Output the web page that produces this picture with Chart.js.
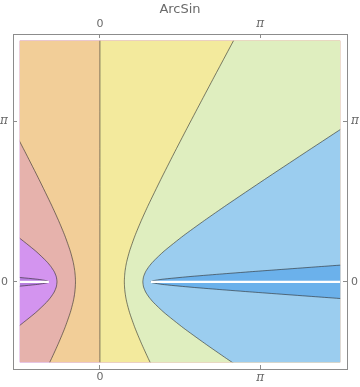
<!DOCTYPE html>
<html>
<head>
<meta charset="utf-8">
<script src="https://cdn.jsdelivr.net/npm/chart.js@4.4.1/dist/chart.umd.min.js"></script>
<style>
  html, body { margin: 0; padding: 0; background: #ffffff; }
  #c { display: block; }
</style>
</head>
<body>
<canvas id="c" width="360" height="387"></canvas>
<script>
// ---------------- data ----------------
const TITLE = 'ArcSin';
// plotted square (both axes): -π/2 .. 3π/2
const PLOT_RANGE = [-Math.PI / 2, 3 * Math.PI / 2];
const AXIS_PAD = 0.134;
// tick positions and labels (same on all four sides)
const TICK_VALUES = [0, Math.PI];
const TICK_LABELS = ['0', 'π'];

// contour levels of Re(ArcSin z), with their curves (x at given y)
const LEVELS = [-1.5, -1, -0.5, 0, 0.5, 1, 1.5];

// y samples for the |level| = 0.5 and 1 curves
const Y_MAIN = [-2.5, -2, -1.5, -1.2, -0.9, -0.6, -0.4, -0.3, -0.2, -0.1, 0,
                0.1, 0.2, 0.3, 0.4, 0.6, 0.9, 1.2, 1.5, 2, 2.5, 3, 3.5, 4, 5, 6];
const X_LEVEL_P05 = [1.447, 1.193, 0.949, 0.812, 0.687, 0.581, 0.527, 0.507, 0.492, 0.483, 0.479,
                     0.483, 0.492, 0.507, 0.527, 0.581, 0.687, 0.812, 0.949, 1.193, 1.447, 1.707, 1.971, 2.237, 2.773, 3.312];
const X_LEVEL_M05 = [-1.447, -1.193, -0.949, -0.812, -0.687, -0.581, -0.527, -0.507, -0.492, -0.483, -0.479,
                     -0.483, -0.492, -0.507, -0.527, -0.581, -0.687, -0.812, -0.949, -1.193, -1.447, -1.707, -1.971, -2.237, -2.773, -3.312];
const X_LEVEL_P1 = [3.984, 3.227, 2.483, 2.050, 1.635, 1.258, 1.047, 0.963, 0.897, 0.856, 0.842,
                    0.856, 0.897, 0.963, 1.047, 1.258, 1.635, 2.050, 2.483, 3.227, 3.984, 4.748, 5.516, 6.287, 7.833, 9.383];
const X_LEVEL_M1 = [-3.984, -3.227, -2.483, -2.050, -1.635, -1.258, -1.047, -0.963, -0.897, -0.856, -0.842,
                    -0.856, -0.897, -0.963, -1.047, -1.258, -1.635, -2.050, -2.483, -3.227, -3.984, -4.748, -5.516, -6.287, -7.833, -9.383];

// level 0 is the imaginary axis
const Y_ZERO = [-10, 10];
const X_LEVEL_0 = [0, 0];

// thin wedges hugging the branch cuts (|level| = 1.5)
const Y_WEDGE = [-0.6, -0.4, -0.3, -0.2, -0.15, -0.1, -0.05, -0.02, 0, 0.02, 0.05, 0.1, 0.15, 0.2, 0.3, 0.4, 0.6];
const X_LEVEL_P15 = [8.52, 5.73, 4.35, 2.99, 2.34, 1.73, 1.22, 1.037, 0.998, 1.037, 1.22, 1.73, 2.34, 2.99, 4.35, 5.73, 8.52];
const X_LEVEL_M15 = [-8.52, -5.73, -4.35, -2.99, -2.34, -1.73, -1.22, -1.037, -0.998, -1.037, -1.22, -1.73, -2.34, -2.99, -4.35, -5.73, -8.52];

// branch cuts (white) on the real axis
const CUT_LEFT_X = [-Math.PI / 2, -1];
const CUT_RIGHT_X = [1, 3 * Math.PI / 2];
const CUT_Y = [0, 0];

// region colours, from lowest Re to highest
const REGION_COLORS = ['#b67ddf', '#d394ef', '#e6b2ac', '#f2ce98', '#f3ea9d', '#dfeebf', '#9bcdef', '#6bb1eb'];
const LINE_COLOR = 'rgba(45,45,45,0.6)';
const FRAME_COLOR = '#8c8c8c';
const TEXT_COLOR = '#6a6a6a';

// ---------------- build datasets ----------------
const FAR = 40;
function curve(xs, ys) { return xs.map((x, i) => ({ x: x, y: ys[i] })); }
// region to the right of a curve (Re > level)
function rightOf(pts) {
  const first = pts[0], last = pts[pts.length - 1];
  return [{ x: first.x, y: -FAR }, ...pts, { x: last.x, y: FAR }, { x: FAR, y: FAR }, { x: FAR, y: -FAR }];
}

const curves = [
  curve(X_LEVEL_M15, Y_WEDGE),
  curve(X_LEVEL_M1, Y_MAIN),
  curve(X_LEVEL_M05, Y_MAIN),
  curve(X_LEVEL_0, Y_ZERO),
  curve(X_LEVEL_P05, Y_MAIN),
  curve(X_LEVEL_P1, Y_MAIN),
  curve(X_LEVEL_P15, Y_WEDGE)
];

const datasets = [];
// background region (Re < -1.5)
datasets.push({
  data: [{ x: -FAR, y: -FAR }, { x: -FAR, y: FAR }, { x: FAR, y: FAR }, { x: FAR, y: -FAR }],
  backgroundColor: REGION_COLORS[0], borderColor: 'rgba(0,0,0,0)', borderWidth: 0,
  fill: 'shape', showLine: true, pointRadius: 0, order: 100, tension: 0
});
curves.forEach((pts, i) => {
  datasets.push({
    data: rightOf(pts),
    backgroundColor: REGION_COLORS[i + 1], borderColor: 'rgba(0,0,0,0)', borderWidth: 0,
    fill: 'shape', showLine: true, pointRadius: 0, order: 99 - i, tension: 0
  });
});
curves.forEach((pts) => {
  datasets.push({
    data: pts, borderColor: LINE_COLOR, borderWidth: 1, fill: false,
    showLine: true, pointRadius: 0, order: 10, tension: 0.2
  });
});
[CUT_LEFT_X, CUT_RIGHT_X].forEach((xs) => {
  datasets.push({
    data: curve(xs, CUT_Y), borderColor: '#ffffff', borderWidth: 2.2, fill: false,
    showLine: true, pointRadius: 0, order: 1, borderCapStyle: 'butt'
  });
});

// clip marks to the plotted square
const squareClip = {
  id: 'squareClip',
  beforeDatasetsDraw(chart) {
    const { ctx, scales } = chart;
    const l = scales.x.getPixelForValue(PLOT_RANGE[0]);
    const r = scales.x.getPixelForValue(PLOT_RANGE[1]);
    const t = scales.y.getPixelForValue(PLOT_RANGE[1]);
    const b = scales.y.getPixelForValue(PLOT_RANGE[0]);
    ctx.save();
    ctx.beginPath();
    ctx.rect(l, t, r - l, b - t);
    ctx.clip();
  },
  afterDatasetsDraw(chart) { chart.ctx.restore(); }
};

function tickFont(ctx) {
  const isPi = ctx.tick && ctx.tick.label === 'π';
  return isPi
    ? { family: 'DejaVu Serif', size: 12, style: 'italic' }
    : { family: 'DejaVu Sans', size: 11, style: 'normal' };
}
function axis(position, size, pad) {
  return {
    type: 'linear', position: position,
    min: PLOT_RANGE[0] - AXIS_PAD, max: PLOT_RANGE[1] + AXIS_PAD,
    z: 1,
    grid: { drawOnChartArea: false, drawTicks: true, tickLength: -4, color: FRAME_COLOR, lineWidth: 1 },
    border: { display: true, color: FRAME_COLOR, width: 1 },
    ticks: {
      color: TEXT_COLOR, font: tickFont, padding: pad, autoSkip: false, maxRotation: 0,
      callback: (v, i) => TICK_LABELS[i]
    },
    afterBuildTicks: (s) => { s.ticks = TICK_VALUES.map(v => ({ value: v })); },
    afterFit: (s) => {
      if (position === 'top' || position === 'bottom') s.height = size; else s.width = size;
    }
  };
}

new Chart(document.getElementById('c'), {
  type: 'scatter',
  data: { datasets: datasets },
  options: {
    responsive: false, animation: false, devicePixelRatio: 1,
    layout: { padding: 0 },
    plugins: {
      legend: { display: false },
      tooltip: { enabled: false },
      title: {
        display: true, text: TITLE, color: TEXT_COLOR,
        font: { family: 'DejaVu Sans', size: 13, weight: 'normal' },
        padding: { top: 2, bottom: 0 }
      }
    },
    scales: {
      x: axis('bottom', 18, 6),
      x2: axis('top', 16.4, 7),
      y: axis('left', 13, 9),
      y2: axis('right', 13, 8)
    }
  },
  plugins: [squareClip]
});
</script>
</body>
</html>
